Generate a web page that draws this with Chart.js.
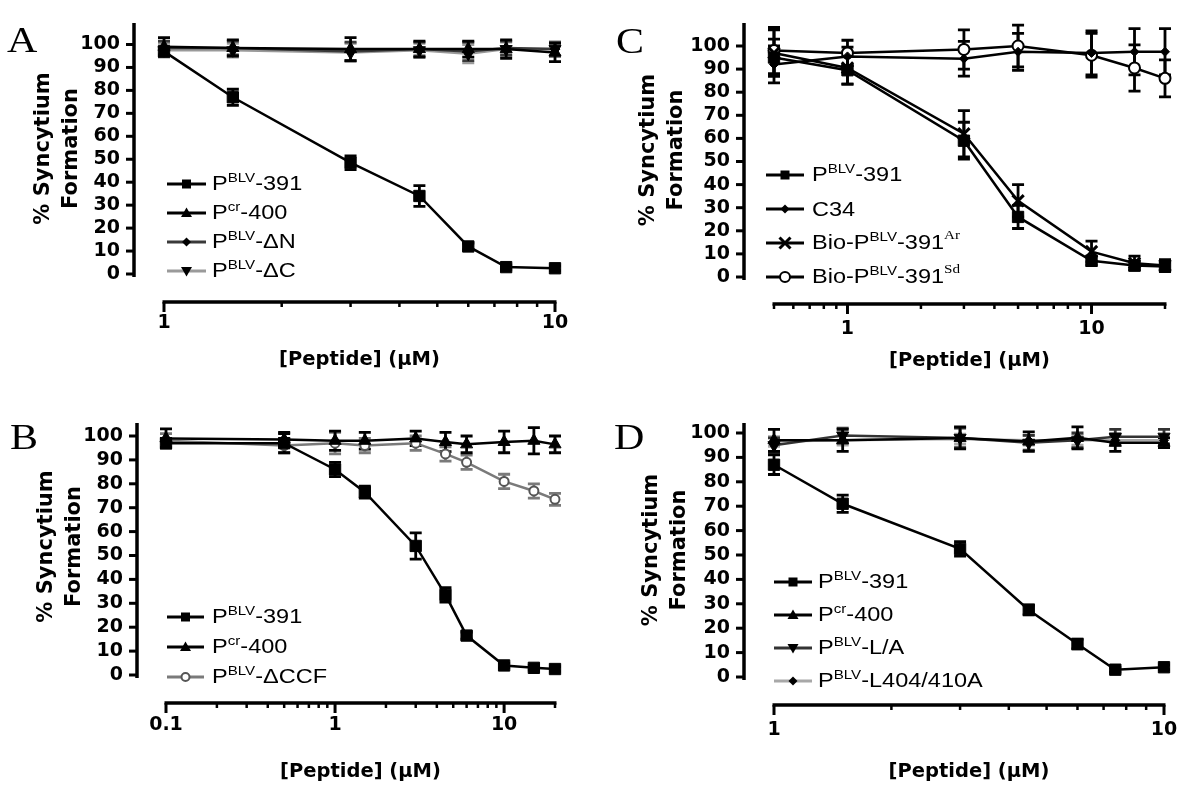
<!DOCTYPE html>
<html><head><meta charset="utf-8">
<script src="https://cdn.jsdelivr.net/npm/chart.js@4.4.1/dist/chart.umd.min.js"></script>
<style>
html,body{margin:0;padding:0;background:#fff;}
#wrap{position:relative;width:1200px;height:803px;overflow:hidden;background:#fff;}
canvas{position:absolute;}
.letter{position:absolute;font-family:"Liberation Serif","Times New Roman",serif;font-size:35px;line-height:35px;transform:scaleX(1.2);transform-origin:left top;color:#000;}
.lrow{position:absolute;height:20px;display:flex;align-items:center;white-space:nowrap;}
.lrow svg{flex:none;display:block;}
.lt{display:inline-block;font-family:"Liberation Sans",Arial,sans-serif;font-size:21px;line-height:20px;transform:scaleX(1.12);transform-origin:left center;color:#000;}
.lt sup{font-size:13.5px;vertical-align:baseline;position:relative;top:-8px;}
.lt sup.ser{font-family:"Liberation Serif",serif;font-size:13.5px;top:-10px;}
</style></head>
<body><div id="wrap"></div>
<script>
// ---------------- DATA ----------------
const yTickValues = [0, 10, 20, 30, 40, 50, 60, 70, 80, 90, 100];
const xTitle = '[Peptide] (\u00B5M)';
const yTitle = ['% Syncytium', 'Formation'];

// Panel A
const xA = [1, 1.5, 3, 4.5, 6, 7.5, 10];
const aP391 = [97, 77, 48.5, 34, 12, 3, 2.5];
const aP391Err = [2, 3.5, 3, 4.5, 1.5, 1, 1];
const aPcr400 = [99, 98.5, 98, 98, 98, 98, 96.5];
const aPcr400Err = [4, 3.5, 5, 3.5, 3.5, 4, 4];
const aDeltaN = [98.5, 98.5, 97, 98, 97, 98.5, 98];
const aDeltaNErr = [3, 3, 4, 3, 4, 3, 3];
const aDeltaC = [97.5, 97.5, 96.5, 97.5, 96, 98, 98];
const aDeltaCErr = [3, 3, 4, 3, 4, 3, 3];
const aTickLabels = [1, 10];
const aTickMarks = [1, 2, 3, 4, 5, 6, 7, 8, 9, 10];

// Panel B
const xB = [0.1, 0.5, 1, 1.5, 3, 4.5, 6, 10, 15, 20];
const bP391 = [97, 97, 86, 76.5, 54, 33.5, 16.5, 4, 3, 2.5];
const bP391Err = [2, 4, 3, 2.5, 5.5, 3, 1.5, 1, 1, 1];
const bPcr400 = [99, 98.5, 98, 98, 99, 97.5, 96.5, 97.5, 98, 96.5];
const bPcr400Err = [4, 3, 4, 3.5, 3, 4, 3.5, 4.5, 5.5, 3.5];
const bDeltaCCF = [98, 96, 97, 96, 97, 92.5, 89, 81, 77, 73.5];
const bDeltaCCFErr = [3, 3, 4.5, 3, 3, 3, 3, 3, 3, 2.5];
const bTickLabels = [0.1, 1, 10];
const bTickMarks = [0.1, 0.2, 0.3, 0.4, 0.5, 0.6, 0.7, 0.8, 0.9, 1, 2, 3, 4, 5, 6, 7, 8, 9, 10, 20];

// Panel C
const xC = [0.5, 1, 3, 5, 10, 15, 20];
const cP391 = [95, 89.5, 59, 26, 7, 5, 4.5];
const cP391Err = [8, 6, 8, 5, 2, 2, 2];
const cC34 = [92, 95.5, 94.5, 97.5, 97, 97.5, 97.5];
const cC34Err = [8, 4, 7.5, 8, 9.5, 10, 10];
const cBioAr = [97, 90.5, 62, 33, 11, 6, 5];
const cBioArErr = [10, 7, 10, 7, 4.5, 3, 2.5];
const cBioSd = [98, 97, 98.5, 100, 96, 90.5, 86];
const cBioSdErr = [10, 5.5, 8.5, 9, 9.5, 10, 8];
const cTickLabels = [1, 10];
const cTickMarks = [0.5, 0.6, 0.7, 0.8, 0.9, 1, 2, 3, 4, 5, 6, 7, 8, 9, 10, 20];

// Panel D
const xD = [1, 1.5, 3, 4.5, 6, 7.5, 10];
const dP391 = [87, 71, 52.5, 27.5, 13.5, 3, 4];
const dP391Err = [4, 3.5, 3, 2, 2, 1, 1];
const dPcr400 = [97, 97, 98, 96.5, 98, 96, 96];
const dPcr400Err = [4.5, 4.5, 4.5, 4, 4.5, 3.5, 2];
const dLA = [95, 99, 98, 96, 97, 98.5, 98.5];
const dLAErr = [3, 3, 4, 3, 3, 3, 3];
const dL404 = [96.5, 97, 97.5, 97, 97, 97, 97];
const dL404Err = [2, 2, 2, 2, 2, 2, 2];
const dTickLabels = [1, 10];
const dTickMarks = [1, 2, 3, 4, 5, 6, 7, 8, 9, 10];

// Series labels
const lblP391 = 'P^{BLV}-391';
const lblPcr400 = 'P^{cr}-400';
const lblDeltaN = 'P^{BLV}-\u0394N';
const lblDeltaC = 'P^{BLV}-\u0394C';
const lblDeltaCCF = 'P^{BLV}-\u0394CCF';
const lblC34 = 'C34';
const lblBioAr = 'Bio-P^{BLV}-391^s{Ar}';
const lblBioSd = 'Bio-P^{BLV}-391^s{Sd}';
const lblLA = 'P^{BLV}-L/A';
const lblL404 = 'P^{BLV}-L404/410A';

// ---------------- STYLES ----------------
const STY = {
  sq:   {shape:'rect', r:8, rot:0, line:'#000', mk:'#000', fill:'#000', bw:1},
  tri:  {shape:'triangle', r:7, rot:0, line:'#000', mk:'#000', fill:'#000', bw:1},
  diaDk:{shape:'rectRot', r:5, rot:0, line:'#3a3a3a', mk:'#000', fill:'#000', bw:1},
  triDnGr:{shape:'triangle', r:7, rot:180, line:'#9a9a9a', mk:'#000', fill:'#000', bw:1},
  cirGr:{shape:'circle', r:4.5, rot:0, line:'#7a7a7a', mk:'#555', fill:'#fff', bw:2},
  dia:  {shape:'rectRot', r:4.5, rot:0, line:'#000', mk:'#000', fill:'#000', bw:1},
  x:    {shape:'crossRot', r:8, rot:0, line:'#000', mk:'#000', fill:'#000', bw:3},
  cir:  {shape:'circle', r:5.5, rot:0, line:'#000', mk:'#000', fill:'#fff', bw:2},
  triDnDk:{shape:'triangle', r:7, rot:180, line:'#333', mk:'#000', fill:'#000', bw:1},
  diaGr:{shape:'rectRot', r:4.5, rot:0, line:'#a8a8a8', mk:'#000', fill:'#000', bw:1}
};

// layout (pixels relative to each panel): chart area left/right/top/bottom, y-axis top, pixel of 100 %
const panels = [
  {letter:'A', pos:[0,0], x:xA, xMin:1, xMax:10, labels:aTickLabels, marks:aTickMarks,
   L:{left:164,right:555,top:23,axisTop:23,bottom:274,y100:44.5,xGap:30,yGap:28,yLabelPad:44,xLabelPad:38,xTitlePad:28,yTitlePad:29},
   leg:{y0:184,dy:29,x0:167,x1:206,tx:212}, let:{x:7,y:23},
   series:[
     {label:lblP391, y:aP391, err:aP391Err, st:STY.sq},
     {label:lblPcr400, y:aPcr400, err:aPcr400Err, st:STY.tri},
     {label:lblDeltaN, y:aDeltaN, err:aDeltaNErr, st:STY.diaDk},
     {label:lblDeltaC, y:aDeltaC, err:aDeltaCErr, st:STY.triDnGr}
   ]},
  {letter:'B', pos:[0,400], x:xB, xMin:0.1, xMax:20, labels:bTickLabels, marks:bTickMarks,
   L:{left:166,right:555,top:18,axisTop:23,bottom:275,y100:36,xGap:29,yGap:28,yLabelPad:43,xLabelPad:39,xTitlePad:16,yTitlePad:32},
   leg:{y0:217,dy:30,x0:167,x1:204,tx:212}, let:{x:10,y:20},
   series:[
     {label:lblP391, y:bP391, err:bP391Err, st:STY.sq},
     {label:lblPcr400, y:bPcr400, err:bPcr400Err, st:STY.tri},
     {label:lblDeltaCCF, y:bDeltaCCF, err:bDeltaCCFErr, st:STY.cirGr}
   ]},
  {letter:'C', pos:[600,0], x:xC, xMin:0.5, xMax:20, labels:cTickLabels, marks:cTickMarks,
   L:{left:174,right:565,top:23,axisTop:23,bottom:277,y100:46,xGap:30,yGap:27,yLabelPad:44,xLabelPad:41,xTitlePad:27,yTitlePad:34},
   leg:{y0:175,dy:34,x0:166,x1:204,tx:212}, let:{x:16,y:24},
   series:[
     {label:lblP391, y:cP391, err:cP391Err, st:STY.sq},
     {label:lblC34, y:cC34, err:cC34Err, st:STY.dia},
     {label:lblBioAr, y:cBioAr, err:cBioArErr, st:STY.x},
     {label:lblBioSd, y:cBioSd, err:cBioSdErr, st:STY.cir}
   ]},
  {letter:'D', pos:[600,400], x:xD, xMin:1, xMax:10, labels:dTickLabels, marks:dTickMarks,
   L:{left:174,right:564,top:23,axisTop:23,bottom:277,y100:33,xGap:30,yGap:28,yLabelPad:44,xLabelPad:42,xTitlePad:16,yTitlePad:37},
   leg:{y0:182,dy:33,x0:174,x1:212,tx:218}, let:{x:14,y:20},
   series:[
     {label:lblP391, y:dP391, err:dP391Err, st:STY.sq},
     {label:lblPcr400, y:dPcr400, err:dPcr400Err, st:STY.tri},
     {label:lblLA, y:dLA, err:dLAErr, st:STY.triDnDk},
     {label:lblL404, y:dL404, err:dL404Err, st:STY.diaGr}
   ]}
];

// ---------------- PLUGINS ----------------
const errorBars = {
  id:'errorBars',
  beforeDatasetsDraw(chart){
    const {ctx, scales:{x, y}} = chart;
    const n = chart.data.datasets.length;
    for (let di = n - 1; di >= 0; di--) {
      const ds = chart.data.datasets[di];
      if (!ds.err) continue;
      ctx.save();
      ctx.strokeStyle = ds.errColor; ctx.lineWidth = 2.8; ctx.lineCap = 'butt';
      ds.data.forEach((p, i) => {
        const e = ds.err[i]; if (!e) return;
        const px = x.getPixelForValue(p.x);
        const t = y.getPixelForValue(p.y + e), b = y.getPixelForValue(p.y - e);
        ctx.beginPath();
        ctx.moveTo(px, t); ctx.lineTo(px, b);
        ctx.moveTo(px - 6, t); ctx.lineTo(px + 6, t);
        ctx.moveTo(px - 6, b); ctx.lineTo(px + 6, b);
        ctx.stroke();
      });
      ctx.restore();
    }
  }
};

const prismAxes = {
  id:'prismAxes',
  afterDraw(chart, args, o){
    const {ctx, chartArea:ca, scales:{x, y}} = chart;
    ctx.save(); ctx.strokeStyle = '#000'; ctx.lineCap = 'butt';
    const ax = ca.left - o.xGap;
    ctx.lineWidth = 3.5;
    ctx.beginPath(); ctx.moveTo(ax, o.axisTop); ctx.lineTo(ax, ca.bottom + 3); ctx.stroke();
    ctx.lineWidth = 3;
    y.ticks.forEach(t => {
      const py = y.getPixelForValue(t.value);
      ctx.beginPath(); ctx.moveTo(ax - 8, py); ctx.lineTo(ax, py); ctx.stroke();
    });
    const ay = ca.bottom + o.yGap;
    ctx.lineWidth = 3.5;
    ctx.beginPath(); ctx.moveTo(ca.left - 1.5, ay); ctx.lineTo(ca.right + 1.5, ay); ctx.stroke();
    x.ticks.forEach(t => {
      const px = x.getPixelForValue(t.value);
      const major = o.labels.includes(t.value);
      ctx.lineWidth = major ? 3 : 2.5;
      ctx.beginPath(); ctx.moveTo(px, ay); ctx.lineTo(px, ay + (major ? 10 : 5)); ctx.stroke();
    });
    ctx.restore();
  }
};

// ---------------- BUILD ----------------
const wrap = document.getElementById('wrap');
const tickFont = {family:'DejaVu Sans', weight:'bold', size:19};

function labelHTML(s){
  return s.replace(/\^s\{([^}]*)\}/g, '<sup class="ser">$1</sup>')
          .replace(/\^\{([^}]*)\}/g, '<sup>$1</sup>');
}
function labelPlain(s){ return s.replace(/\^s?\{([^}]*)\}/g, '$1'); }

function markerSVG(st, w){
  const cx = w / 2, cy = 10;
  let m = '';
  const f = st.fill, c = st.mk;
  if (st.shape === 'rect') m = `<rect x="${cx-4.5}" y="${cy-4.5}" width="9" height="9" fill="${c}"/>`;
  else if (st.shape === 'triangle' && st.rot === 0) m = `<polygon points="${cx},${cy-5.5} ${cx-5.5},${cy+4} ${cx+5.5},${cy+4}" fill="${c}"/>`;
  else if (st.shape === 'triangle') m = `<polygon points="${cx},${cy+5.5} ${cx-5.5},${cy-4} ${cx+5.5},${cy-4}" fill="${c}"/>`;
  else if (st.shape === 'rectRot') m = `<polygon points="${cx},${cy-4.5} ${cx+4.5},${cy} ${cx},${cy+4.5} ${cx-4.5},${cy}" fill="${c}"/>`;
  else if (st.shape === 'crossRot') m = `<path d="M${cx-5.5} ${cy-5.5}L${cx+5.5} ${cy+5.5}M${cx+5.5} ${cy-5.5}L${cx-5.5} ${cy+5.5}" stroke="${c}" stroke-width="3"/>`;
  else if (st.shape === 'circle') m = `<circle cx="${cx}" cy="${cy}" r="${st.r > 5 ? 5 : 4}" fill="${f}" stroke="${c}" stroke-width="2"/>`;
  return `<svg width="${w}" height="20" viewBox="0 0 ${w} 20"><line x1="0" y1="10" x2="${w}" y2="10" stroke="${st.line}" stroke-width="3"/>${m}</svg>`;
}

panels.forEach(P => {
  const L = P.L;
  const W = 600, H = 400;
  const cv = document.createElement('canvas');
  cv.width = W; cv.height = H;
  cv.style.left = P.pos[0] + 'px'; cv.style.top = P.pos[1] + 'px';
  cv.style.width = W + 'px'; cv.style.height = H + 'px';
  wrap.appendChild(cv);
  // axis range chosen so that 100 % lands on L.y100 within the chart area [top, bottom]
  const yMax = 100 * (L.bottom - L.top) / (L.bottom - L.y100);

  const datasets = P.series.map(s => ({
    label: labelPlain(s.label),
    data: P.x.map((xv, i) => ({x: xv, y: s.y[i]})),
    err: s.err,
    errColor: s.st.line,
    borderColor: s.st.line,
    borderWidth: 2.5,
    pointStyle: s.st.shape,
    pointRadius: s.st.r,
    pointRotation: s.st.rot,
    pointBorderColor: s.st.mk,
    pointBackgroundColor: s.st.fill,
    pointBorderWidth: s.st.bw,
    tension: 0,
    fill: false,
    clip: false
  }));

  const noPad = s => { s.paddingTop = 0; s.paddingBottom = 0; s.paddingLeft = 0; s.paddingRight = 0; };

  new Chart(cv, {
    type: 'line',
    data: {datasets},
    options: {
      responsive: false, animation: false, devicePixelRatio: 1,
      layout: {autoPadding: false, padding: {left: 0, top: L.top, right: W - L.right, bottom: 0}},
      plugins: {
        legend: {display: false}, tooltip: {enabled: false},
        prismAxes: {xGap: L.xGap, yGap: L.yGap, labels: P.labels, axisTop: L.axisTop}
      },
      scales: {
        x: {
          type: 'logarithmic', position: 'bottom', min: P.xMin, max: P.xMax, bounds: 'data',
          afterFit: s => { s.height = H - L.bottom; noPad(s); },
          afterBuildTicks: s => { s.ticks = P.marks.map(v => ({value: v})); },
          ticks: {autoSkip: false, maxRotation: 0, minRotation: 0, padding: L.xLabelPad, color: '#000', font: tickFont,
                  callback: v => P.labels.includes(v) ? String(v) : ''},
          grid: {display: false, drawTicks: false}, border: {display: false},
          title: {display: true, text: xTitle, color: '#000', font: {family:'DejaVu Sans', weight:'bold', size:19.5, lineHeight:1.2}, padding: {top: 0, bottom: L.xTitlePad}}
        },
        y: {
          type: 'linear', min: 0, max: yMax, bounds: 'data',
          afterFit: s => { s.width = L.left; noPad(s); },
          afterBuildTicks: s => { s.ticks = yTickValues.map(v => ({value: v})); },
          ticks: {autoSkip: false, padding: L.yLabelPad, color: '#000', font: tickFont},
          grid: {display: false, drawTicks: false}, border: {display: false},
          title: {display: true, text: yTitle, color: '#000', font: {family:'DejaVu Sans', weight:'bold', size:21, lineHeight:1.35}, padding: {top: L.yTitlePad, bottom: 0}}
        }
      }
    },
    plugins: [errorBars, prismAxes]
  });

  // legend (HTML, with superscripts)
  P.series.forEach((s, i) => {
    const row = document.createElement('div');
    row.className = 'lrow';
    const cy = P.pos[1] + P.leg.y0 + i * P.leg.dy;
    row.style.left = (P.pos[0] + P.leg.x0) + 'px';
    row.style.top = (cy - 10) + 'px';
    const w = P.leg.x1 - P.leg.x0;
    row.innerHTML = markerSVG(s.st, w) + `<span class="lt" style="margin-left:${P.leg.tx - P.leg.x1}px">${labelHTML(s.label)}</span>`;
    wrap.appendChild(row);
  });

  const lt = document.createElement('div');
  lt.className = 'letter';
  lt.textContent = P.letter;
  lt.style.left = (P.pos[0] + P.let.x) + 'px';
  lt.style.top = (P.pos[1] + P.let.y) + 'px';
  wrap.appendChild(lt);
});
</script>
</body></html>
